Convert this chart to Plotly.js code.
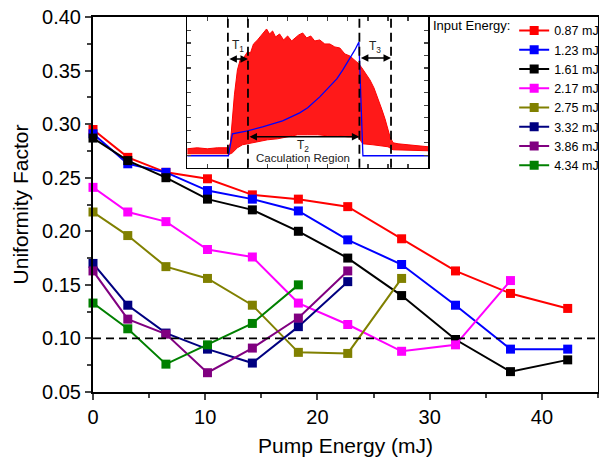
<!DOCTYPE html>
<html>
<head>
<meta charset="utf-8">
<script src="https://cdn.plot.ly/plotly-3.0.1.min.js"></script>
<style>html,body{margin:0;padding:0;background:#fff;}#chart{width:599px;height:457px;}</style>
</head>
<body>
<div id="chart"></div>
<script>
// ---- main chart data ----
const pumpEnergy = [0, 3.1, 6.5, 10.2, 14.2, 18.3, 22.7, 27.5, 32.3, 37.2, 42.3];
const seriesNames = ["0.87 mJ", "1.23 mJ", "1.61 mJ", "2.17 mJ", "2.75 mJ", "3.32 mJ", "3.86 mJ", "4.34 mJ"];
const seriesColors = ["#FF0000", "#0000FF", "#000000", "#FF00FF", "#808000", "#000080", "#800080", "#008000"];
const uf087 = [0.295, 0.269, 0.255, 0.249, 0.234, 0.230, 0.223, 0.193, 0.163, 0.142, 0.128];
const uf123 = [0.291, 0.263, 0.255, 0.238, 0.230, 0.219, 0.192, 0.169, 0.131, 0.090, 0.090];
const uf161 = [0.287, 0.266, 0.250, 0.230, 0.220, 0.200, 0.175, 0.140, 0.099, 0.069, 0.080];
const uf217 = [0.241, 0.218, 0.209, 0.183, 0.176, 0.133, 0.113, 0.088, 0.094, 0.154];
const uf275 = [0.218, 0.196, 0.167, 0.156, 0.131, 0.087, 0.086, 0.156];
const uf332 = [0.170, 0.131, 0.105, 0.090, 0.077, 0.111, 0.153];
const uf386 = [0.163, 0.118, 0.104, 0.068, 0.091, 0.119, 0.163];
const uf434 = [0.133, 0.109, 0.076, 0.094, 0.114, 0.150];
const allSeries = [uf087, uf123, uf161, uf217, uf275, uf332, uf386, uf434];
const legendTitle = 'Input Energy:';
const thresholdUF = 0.10;

// ---- inset data (pulse trace, arbitrary units) ----
const insetTimeUpper = [0, 10, 20, 30, 40, 41, 43, 45, 47, 50, 53, 56, 60, 63, 66, 70, 74, 77, 79, 82, 85, 88, 92, 96, 100, 104, 107, 111, 115, 119, 123, 127, 132, 137, 142, 147, 152, 157, 162, 167, 171, 174, 178, 182, 186, 190, 194, 197, 200, 202, 205, 210, 220, 230, 240];
const insetUpper =     [19, 20, 19, 20, 20, 19, 25, 50, 73, 98, 109, 110, 116, 115, 124, 128, 133, 137, 139, 134, 137, 131, 134, 128, 132, 127, 130, 133, 135, 130, 132, 127, 128, 124, 124, 121, 120, 114, 112, 108, 104, 100, 94, 88, 80, 70, 58, 49, 38, 31, 25, 24, 23, 22, 21];
const insetTimeLower = [0, 40, 41, 45, 50, 55, 60, 70, 80, 90, 100, 110, 120, 130, 140, 150, 160, 170, 172, 175, 185, 200, 205, 240];
const insetLower =     [14, 14, 13, 15, 20, 23, 24, 26, 28, 29, 31, 33, 33, 33, 32, 32, 31, 31, 28, 24, 23, 21, 18, 17];
const insetBeamTime = [0, 41, 45, 60, 75, 95, 112, 120, 132, 140, 149, 155, 162, 167, 171, 175, 240];
const insetBeam =     [12, 12, 34, 37, 41, 47, 55, 60, 71, 79, 89, 98, 109, 118, 126, 12, 12];
const insetMarkers = [40.5, 60.5, 171.5, 203];

const traces = [];
// inset traces
traces.push({x: insetTimeLower, y: insetLower, xaxis: 'x2', yaxis: 'y2', mode: 'lines',
  line: {color: '#FF0000', width: 1}, showlegend: false, hoverinfo: 'skip'});
traces.push({x: insetTimeUpper, y: insetUpper, xaxis: 'x2', yaxis: 'y2', mode: 'lines',
  line: {color: '#FF0000', width: 1}, fill: 'tonexty', fillcolor: 'rgba(255,0,0,0.9)', showlegend: false, hoverinfo: 'skip'});
traces.push({x: insetBeamTime, y: insetBeam, xaxis: 'x2', yaxis: 'y2', mode: 'lines',
  line: {color: '#0000FF', width: 1.3}, showlegend: false, hoverinfo: 'skip'});

// main traces
allSeries.forEach((vals, i) => {
  traces.push({
    x: pumpEnergy.slice(0, vals.length), y: vals, name: seriesNames[i],
    mode: 'lines+markers', cliponaxis: false,
    line: {color: seriesColors[i], width: 2},
    marker: {symbol: 'square', size: 9, color: seriesColors[i]},
    xaxis: 'x', yaxis: 'y'
  });
});

const shapes = [
  {type: 'line', xref: 'paper', x0: 0, x1: 1, yref: 'y', y0: thresholdUF, y1: thresholdUF,
   line: {color: '#000', width: 1.8, dash: '8px,5px'}}
];
insetMarkers.forEach(m => shapes.push({type: 'line', xref: 'x2', x0: m, x1: m, yref: 'y2 domain', y0: 0, y1: 1,
  line: {color: '#000', width: 1.8, dash: '9px,5px'}}));

const font = 'Liberation Sans, Arial, sans-serif';
const arrowCommon = {xref: 'x2', yref: 'y2', axref: 'x2', ayref: 'y2', text: '', showarrow: true,
  arrowhead: 2, arrowsize: 1, arrowwidth: 1.5, arrowcolor: '#000', arrowside: 'end+start', standoff: 0, startstandoff: 0};
const annotations = [
  Object.assign({}, arrowCommon, {x: insetMarkers[1], y: 109, ax: insetMarkers[0], ay: 109}),
  Object.assign({}, arrowCommon, {x: insetMarkers[2], y: 31, ax: insetMarkers[1], ay: 31}),
  Object.assign({}, arrowCommon, {x: insetMarkers[3], y: 110, ax: insetMarkers[2], ay: 110}),
  {xref: 'x2', yref: 'y2', x: 51, y: 122, text: 'T<sub>1</sub>', showarrow: false, font: {size: 12, color: '#222', family: font}},
  {xref: 'x2', yref: 'y2', x: 115, y: 22, text: 'T<sub>2</sub>', showarrow: false, font: {size: 12, color: '#222', family: font}},
  {xref: 'x2', yref: 'y2', x: 187, y: 121, text: 'T<sub>3</sub>', showarrow: false, font: {size: 12, color: '#222', family: font}},
  {xref: 'x2', yref: 'y2', x: 115, y: 10, text: 'Caculation Region', showarrow: false, font: {size: 11.5, color: '#222', family: font}},
  {xref: 'paper', yref: 'paper', x: 0.830, xanchor: 'right', y: 0.978, yanchor: 'middle', text: legendTitle,
   showarrow: false, font: {size: 13, color: '#000', family: font}}
];

const layout = {
  width: 599, height: 457,
  margin: {l: 93, r: 1, t: 17, b: 65, autoexpand: false},
  paper_bgcolor: '#fff', plot_bgcolor: 'rgba(0,0,0,0)',
  font: {family: font, color: '#000'},
  showlegend: true,
  legend: {x: 0.834, xanchor: 'left', y: 1.003, yanchor: 'top', bgcolor: 'rgba(255,255,255,0)',
    traceorder: 'normal', font: {size: 12.5, family: font, color: '#000'},
    itemwidth: 30, tracegroupgap: 0, borderwidth: 0},
  xaxis: {range: [0, 45], dtick: 10, tick0: 0, ticks: 'outside', ticklen: 6, tickwidth: 2,
    showline: true, linewidth: 2, linecolor: '#000', mirror: true, showgrid: false, zeroline: false,
    minor: {dtick: 5, ticks: 'outside', ticklen: 4, tickwidth: 2}, automargin: false,
    tickfont: {size: 20, family: font}, title: {text: 'Pump Energy (mJ)', font: {size: 21, family: font}, standoff: 14}},
  yaxis: {range: [0.05, 0.40], dtick: 0.05, tick0: 0, tickformat: '.2f', ticks: 'outside', ticklen: 6, tickwidth: 2,
    showline: true, linewidth: 2, linecolor: '#000', mirror: true, showgrid: false, zeroline: false,
    minor: {dtick: 0.025, ticks: 'outside', ticklen: 4, tickwidth: 2}, automargin: false,
    tickfont: {size: 20, family: font}, title: {text: 'Uniformity Factor', font: {size: 21, family: font}, standoff: 8}},
  xaxis2: {domain: [0.1866, 0.6637], anchor: 'y2', range: [0, 240], dtick: 20, tick0: 0,
    ticks: 'inside', ticklen: 4, tickwidth: 1.2, showticklabels: false, showline: true, linewidth: 1.5,
    linecolor: '#000', mirror: 'ticks', showgrid: false, zeroline: false},
  yaxis2: {domain: [0.598, 1], anchor: 'x2', range: [0, 151], dtick: 12.5, tick0: 0,
    ticks: 'inside', ticklen: 4, tickwidth: 1.2, showticklabels: false, showline: true, linewidth: 1.5,
    linecolor: '#000', mirror: 'ticks', showgrid: false, zeroline: false},
  shapes: shapes,
  annotations: annotations
};

Plotly.newPlot('chart', traces, layout, {displayModeBar: false, staticPlot: true});
</script>
</body>
</html>
